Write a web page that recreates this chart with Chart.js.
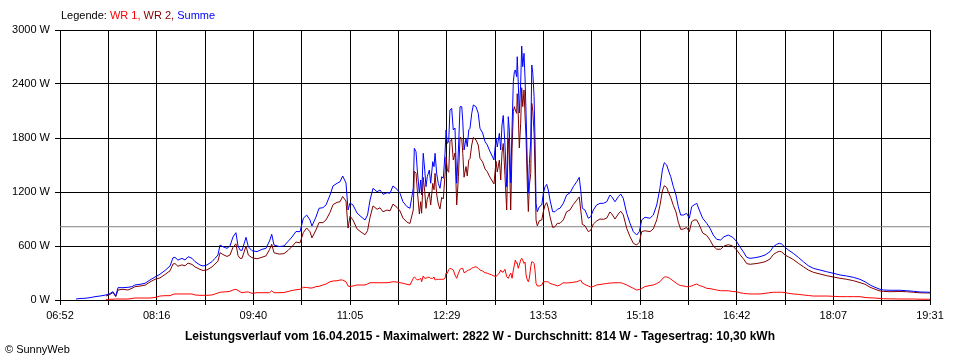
<!DOCTYPE html>
<html><head><meta charset="utf-8">
<script src="https://cdn.jsdelivr.net/npm/chart.js@4.4.0/dist/chart.umd.min.js"></script>
<style>
html,body{margin:0;padding:0;background:#fff;}
#wrap{position:relative;width:960px;height:360px;overflow:hidden;font-family:'Liberation Sans',Arial,sans-serif;color:#000;}
canvas{position:absolute;left:0;top:0;}
#legend{position:absolute;left:61px;top:9px;font-size:11px;white-space:nowrap;}
#caption{position:absolute;left:0;top:329px;width:960px;text-align:center;font-size:12px;font-weight:bold;white-space:nowrap;}
#copy{position:absolute;left:5px;top:343px;font-size:11px;white-space:nowrap;}
</style></head>
<body><div id="wrap"><canvas id="c" width="960" height="360"></canvas>
<div id="legend"></div><div id="caption"></div><div id="copy">© SunnyWeb</div></div>
<script>
// ---- data (time in minutes after midnight, power in W) ----
const seriesNames = ['WR 1', 'WR 2', 'Summe'];
const seriesColors = ['#ff0000', '#800000', '#0000ff'];
const xTickLabels = ['06:52','08:16','09:40','11:05','12:29','13:53','15:18','16:42','18:07','19:31'];
const yTickValues = [0, 600, 1200, 1800, 2400, 3000];
const dayStartMin = 412;   // 06:52
const dayEndMin = 1171;    // 19:31
const reportDate = '16.04.2015';
const maxPowerW = 2822;
const averagePowerW = 814;
const dailyYield = '10,30';

const timeMin = [
 426.0,429.4,433.8,438.2,442.5,446.9,452.1,455.6,458.2,460.6,
 462.6,467.0,471.3,474.8,477.4,481.8,486.2,490.5,494.9,499.2,
 503.6,508.0,510.6,512.3,514.9,518.4,521.1,523.7,527.2,529.8,
 534.1,536.8,540.2,544.6,547.2,549.8,551.6,554.2,557.7,560.3,
 562.9,565.5,567.3,569.0,570.8,574.3,576.3,579.5,583.9,588.2,
 591.7,594.8,596.7,598.7,603.1,607.4,610.9,614.4,617.9,621.4,
 624.3,627.2,630.1,631.8,635.3,638.0,641.4,644.1,647.6,650.2,
 653.7,656.3,658.6,661.5,663.3,665.0,667.6,671.1,674.6,678.1,
 680.3,682.5,685.1,688.6,691.2,693.8,697.3,699.9,702.5,706.0,
 708.6,711.2,714.7,717.3,
 720.2,721.1,722.6,723.7,725.5,726.7,727.5,728.9,730.2,731.3,
 732.4,734.2,735.4,737.2,738.3,739.2,740.6,742.0,743.5,745.0,
 746.4,747.9,748.8,749.9,751.1,752.2,753.7,755.1,756.6,758.1,
 759.6,761.0,762.5,763.4,764.5,766.2,767.3,768.6,769.7,771.2,
 772.6,774.9,776.9,778.4,780.7,782.8,784.8,786.5,788.6,790.6,
 792.4,793.5,795.3,796.5,797.6,798.7,800.2,801.7,803.1,804.0,
 805.2,806.4,807.5,808.4,809.2,810.4,810.9,811.8,812.7,813.9,
 814.8,815.7,816.8,817.7,818.6,819.7,820.6,821.5,822.7,823.6,
 824.5,825.6,826.4,827.3,828.4,830.2,832.3,833.7,835.2,836.6,
 838.0,839.5,841.8,843.8,845.9,848.2,
 851.1,854.0,856.9,859.8,862.8,865.0,866.3,867.7,870.0,872.9,
 875.0,877.3,880.2,883.1,886.0,889.0,891.8,893.3,896.2,899.1,
 901.2,903.4,906.4,909.3,912.2,915.1,917.4,919.5,922.4,926.7,
 929.6,932.6,935.4,937.5,939.2,941.3,942.7,944.8,947.1,949.4,
 951.4,953.5,955.8,958.7,961.0,963.1,965.1,967.5,969.7,972.7,
 976.2,979.1,981.9,984.9,988.4,991.3,995.0,998.9,1002.4,1005.2,
 1008.1,1011.1,1014.0,1018.3,1022.7,1027.1,1031.4,1034.3,1037.3,1039.5,
 1041.6,1044.5,1047.4,1051.7,1056.1,1060.5,1064.8,1069.2,1075.0,1080.9,
 1086.6,1092.5,1098.3,1104.1,1109.9,1114.3,1118.7,1123.0,1127.4,1130.3,
 1136.1,1144.8,1150.7,1156.4,1162.3,1171.0
];

const wr1 = [
 null,null,null,null,null,null,6,8,8,11,
 11,11,11,17,22,22,22,22,28,44,
 48,48,63,67,67,67,67,67,67,56,
 52,52,52,56,67,78,86,89,92,97,
 111,119,106,92,81,89,89,74,81,81,
 81,81,103,81,81,83,94,106,114,119,
 141,139,133,133,148,152,167,178,203,211,
 214,222,222,203,156,148,156,167,167,167,
 178,192,192,192,192,192,192,197,203,200,
 192,186,174,167,
 241,256,239,222,230,241,203,267,241,241,
 252,252,241,241,256,222,230,230,230,230,
 230,241,300,297,337,352,344,333,278,241,
 297,341,352,352,303,314,326,333,337,352,
 361,370,352,333,322,303,297,289,278,267,
 259,278,297,333,311,311,341,259,241,267,
 300,241,333,389,444,407,411,352,389,444,
 463,444,407,422,278,222,203,244,370,426,
 422,407,333,185,156,156,167,203,203,203,
 200,185,174,167,156,167,
 192,189,192,197,203,214,222,189,172,156,
 144,150,167,172,178,183,189,189,192,192,
 192,183,167,148,130,111,117,128,150,161,
 167,183,203,233,256,256,250,233,211,189,
 172,161,156,148,150,156,167,178,161,150,
 130,126,119,111,103,103,103,94,92,81,
 74,70,67,67,67,74,81,86,86,86,
 86,83,74,67,63,56,50,44,44,44,
 41,37,37,37,37,28,24,22,17,14,
 13,11,11,11,9,8
];

const wr2 = [
 null,null,null,null,null,null,44,61,83,37,
 111,119,111,130,148,155,165,200,230,245,
 283,325,400,405,375,390,380,410,395,368,
 340,328,334,368,400,430,526,505,484,500,
 585,625,495,463,463,600,500,470,458,475,
 490,560,620,525,510,515,550,595,644,635,
 750,800,759,690,778,860,860,890,975,1060,
 1085,1092,1150,1100,800,930,890,790,755,725,
 770,920,1045,1008,1025,980,1000,990,1065,1030,
 990,910,865,850,
 1000,1430,1409,1222,956,1092,964,1363,1203,1018,
 1118,1192,1056,1296,1225,1408,1178,1067,1011,1140,
 1122,1389,1589,1444,1419,1759,1786,1556,1633,1056,
 1370,1807,1796,1629,1364,1483,1378,1556,1571,1722,
 1806,1778,1722,1575,1534,1456,1425,1378,1333,1289,
 1541,1422,1555,1334,1633,1739,1381,1000,1796,1622,
 1000,1685,2093,2148,2112,2074,2292,2056,1689,1964,
 2359,2148,2334,2045,1796,1278,983,1275,1408,2185,
 2097,1852,1445,889,825,881,889,983,1056,1082,
 1022,926,807,814,852,852,
 890,981,1000,1060,1110,1145,1000,840,825,760,
 775,844,878,900,896,910,978,958,900,956,
 986,947,796,704,630,611,642,761,769,760,
 790,890,1050,1211,1270,1250,1200,1140,1050,978,
 865,785,788,805,758,870,889,890,835,745,
 718,665,600,565,564,600,615,600,555,505,
 460,404,397,403,412,425,455,505,530,540,
 535,500,480,450,408,370,333,308,289,270,
 256,241,230,215,193,175,142,120,100,96,
 92,95,92,86,80,78
];

const summe = [
 11,17,19,26,37,44,56,72,92,44,
 137,137,141,148,167,174,186,222,256,286,
 328,378,470,474,444,463,444,481,463,426,
 389,378,389,426,463,500,611,592,574,600,
 700,748,600,556,550,697,592,548,537,563,
 574,656,730,611,594,600,650,700,761,759,
 908,944,889,822,922,1019,1026,1056,1167,1267,
 1297,1314,1378,1300,1000,1078,1056,967,926,889,
 944,1111,1241,1203,1222,1174,1192,1186,1267,1230,
 1186,1092,1037,1019,
 1241,1686,1648,1444,1186,1333,1167,1630,1444,1259,
 1370,1444,1297,1537,1481,1630,1408,1297,1241,1370,
 1352,1630,1889,1741,1756,2111,2130,1889,1911,1297,
 1667,2148,2148,1981,1667,1797,1704,1889,1908,2074,
 2167,2148,2074,1908,1856,1759,1722,1667,1611,1556,
 1800,1700,1852,1667,1944,2050,1722,1259,2037,1889,
 1300,1926,2426,2537,2556,2481,2703,2408,2078,2408,
 2822,2592,2741,2467,2074,1500,1186,1519,1778,2611,
 2519,2259,1778,1074,981,1037,1056,1186,1259,1285,
 1222,1111,981,981,1008,1019,
 1074,1167,1189,1259,1314,1363,1220,1019,1000,908,
 926,1000,1056,1074,1074,1092,1167,1148,1092,1148,
 1178,1130,963,852,759,722,759,889,919,908,
 944,1056,1241,1444,1526,1500,1444,1370,1259,1167,
 1037,944,944,963,908,1037,1056,1074,1000,908,
 852,797,722,674,667,703,722,697,648,590,
 537,474,463,470,481,500,537,592,619,630,
 622,586,556,519,474,426,381,352,333,314,
 297,278,267,252,230,203,167,141,119,111,
 108,108,103,97,89,86
];

// ---- texts built from the values ----
const legendEl = document.getElementById('legend');
legendEl.innerHTML = 'Legende: ' + seriesNames.map((n, i) =>
  '<span style="color:' + seriesColors[i] + '">' + n + (i < seriesNames.length - 1 ? ',' : '') + '</span>').join(' ');
document.getElementById('caption').textContent =
  'Leistungsverlauf vom ' + reportDate + ' - Maximalwert: ' + maxPowerW + ' W - Durchschnitt: ' +
  averagePowerW + ' W - Tagesertrag: ' + dailyYield + ' kWh';

const FONT = { family: "'Liberation Sans', Arial, sans-serif", size: 11 };
const toPoints = arr => timeMin.map((t, i) => ({ x: t, y: arr[i] }));
const gridStep = (dayEndMin - dayStartMin) / 18;
const xGridValues = Array.from({ length: 19 }, (_, i) => dayStartMin + i * gridStep);

const lineDs = (label, data, color, order) => ({
  label, data: toPoints(data), borderColor: color, backgroundColor: color,
  borderWidth: 1, pointRadius: 0, tension: 0, fill: false, order, spanGaps: false
});

new Chart(document.getElementById('c'), {
  type: 'line',
  data: {
    datasets: [
      lineDs(seriesNames[2], summe, seriesColors[2], 0),
      lineDs(seriesNames[1], wr2, seriesColors[1], 1),
      lineDs(seriesNames[0], wr1, seriesColors[0], 2),
      { label: 'Durchschnitt', data: [{ x: dayStartMin, y: averagePowerW }, { x: dayEndMin, y: averagePowerW }],
        borderColor: '#808080', borderWidth: 1, pointRadius: 0, order: 3 }
    ]
  },
  options: {
    responsive: false, animation: false, devicePixelRatio: 1,
    layout: { padding: { top: 30, right: 30, left: 0, bottom: 0 } },
    plugins: { legend: { display: false }, tooltip: { enabled: false }, title: { display: false } },
    scales: {
      x: {
        type: 'linear', min: dayStartMin, max: dayEndMin,
        afterBuildTicks: s => { s.ticks = xGridValues.map(v => ({ value: v })); },
        afterFit: s => { s.height = 60; },
        ticks: {
          autoSkip: false, maxRotation: 0, minRotation: 0, padding: 4, color: '#000', font: FONT,
          callback: (v, i) => (i % 2 === 0 ? xTickLabels[i / 2] : '')
        },
        grid: { color: '#000', lineWidth: 1, tickLength: 5, drawTicks: true },
        border: { color: '#000', width: 1 }
      },
      y: {
        min: 0, max: 3000,
        afterBuildTicks: s => { s.ticks = yTickValues.map(v => ({ value: v })); },
        afterFit: s => { s.width = 60; },
        ticks: { padding: 5, color: '#000', font: FONT, callback: v => v + ' W' },
        grid: { color: '#000', lineWidth: 1, tickLength: 5 },
        border: { color: '#000', width: 1 }
      }
    }
  }
});
</script>
</body></html>
